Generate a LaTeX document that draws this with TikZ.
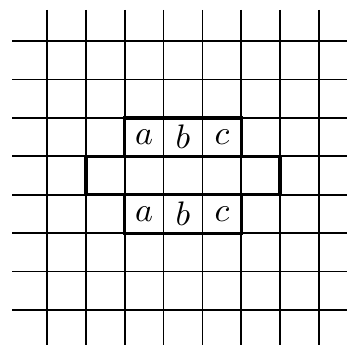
\documentclass[tikz,border=0pt]{standalone}
\begin{document}
\begin{tikzpicture}[x=1pt,y=-1pt,
  thin line/.style={line width=1.7pt,black},
  thick line/.style={line width=3.4pt,black,line join=miter},
  lbl/.style={scale=3.4, inner sep=0pt}]
\useasboundingbox (0,0) rectangle (347,345);
% vertical lines
\foreach \i in {0,...,7} {
  \draw[thin line] ({47+38.86*\i},10) -- ({47+38.86*\i},345);
}
% horizontal lines
\foreach \j in {0,...,7} {
  \draw[thin line] (12,{41+38.43*\j}) -- (347,{41+38.43*\j});
}
% thick outlines
\draw[thick line] (124.7,117.9) rectangle (241.3,156.3);
\draw[thick line] (85.9,156.3) rectangle (280.1,194.7);
\draw[thick line] (124.7,194.7) rectangle (241.3,233.2);
% labels
\node[lbl] (a1) at (144.1,137.1) {$a$};
\node[lbl] (b1) at (183.0,137.1) {$b$};
\node[lbl] (c1) at (221.9,137.1) {$c$};
\node[lbl] (a2) at (144.1,214.0) {$a$};
\node[lbl] (b2) at (183.0,214.0) {$b$};
\node[lbl] (c2) at (221.9,214.0) {$c$};
\end{tikzpicture}
\end{document}
